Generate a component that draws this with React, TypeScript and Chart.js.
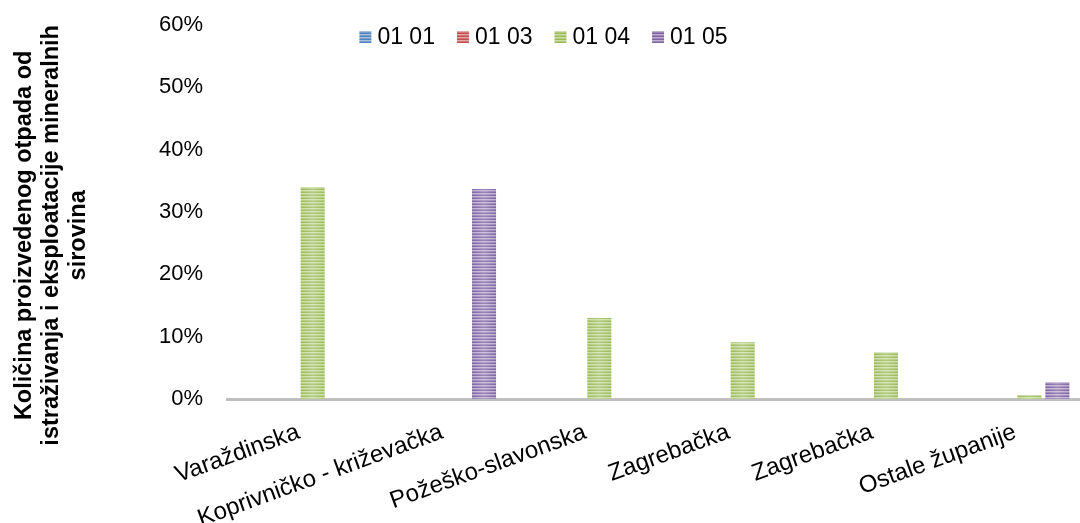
import React, { useEffect, useRef } from "react";
import { Chart, registerables } from "chart.js";

Chart.register(...registerables);

// Categories (counties) and the share per waste code, in percent
const categories = [
  "Varaždinska",
  "Koprivničko - križevačka",
  "Požeško-slavonska",
  "Zagrebačka",
  "Zagrebačka",
  "Ostale županije",
];
const seriesNames = ["01 01", "01 03", "01 04", "01 05"];
const values0101 = [0, 0, 0, 0, 0, 0];
const values0103 = [0, 0, 0, 0, 0, 0];
const values0104 = [34.0, 0, 13.0, 9.1, 7.5, 0.6];
const values0105 = [0, 33.7, 0, 0, 0, 2.7];
const yTicks = [0, 10, 20, 30, 40, 50, 60];
const yTitleLines = [
  "Količina proizvedenog otpada od",
  "istraživanja i eksploatacije mineralnih",
  "sirovina",
];

const seriesValues = [values0101, values0103, values0104, values0105];
const darkColors = ["#4f81bd", "#c0504d", "#9bbb59", "#8064a2"];
const lightColors = ["#a7c0de", "#dfa8a6", "#cddfa8", "#bfb0d3"];

const FONT = "'Liberation Sans', Arial, sans-serif";

function makeStripe(ctx: CanvasRenderingContext2D, dark: string, light: string) {
  const c = document.createElement("canvas");
  c.width = 4;
  c.height = 3;
  const g = c.getContext("2d")!;
  g.fillStyle = dark;
  g.fillRect(0, 0, 4, 3);
  g.fillStyle = light;
  g.fillRect(0, 1, 4, 1);
  g.globalAlpha = 0.45;
  g.fillRect(0, 2, 4, 1);
  return ctx.createPattern(c, "repeat") as CanvasPattern;
}

export default function App() {
  const canvasRef = useRef<HTMLCanvasElement | null>(null);

  useEffect(() => {
    const canvas = canvasRef.current;
    if (!canvas) return;
    const ctx = canvas.getContext("2d")!;
    const patterns = darkColors.map((d, i) => makeStripe(ctx, d, lightColors[i]));

    // Soft vertical sheen across every bar
    const sheenPlugin = {
      id: "sheen",
      afterDatasetsDraw(chart: any) {
        const c = chart.ctx as CanvasRenderingContext2D;
        chart.data.datasets.forEach((_: any, di: number) => {
          const meta = chart.getDatasetMeta(di);
          meta.data.forEach((bar: any) => {
            const h = Math.abs(bar.base - bar.y);
            if (h < 1) return;
            const x0 = bar.x - bar.width / 2;
            const gr = c.createLinearGradient(x0, 0, x0 + bar.width, 0);
            gr.addColorStop(0, "rgba(255,255,255,0)");
            gr.addColorStop(0.5, "rgba(255,255,255,0.22)");
            gr.addColorStop(1, "rgba(255,255,255,0)");
            c.save();
            c.fillStyle = gr;
            c.fillRect(x0, Math.min(bar.y, bar.base), bar.width, h);
            c.restore();
          });
        });
      },
    };

    // Legend drawn across the top of the canvas, overlapping the plot
    const legendPlugin = {
      id: "topLegend",
      afterDraw(chart: any) {
        const c = chart.ctx as CanvasRenderingContext2D;
        c.save();
        c.font = `23px ${FONT}`;
        c.textBaseline = "middle";
        c.textAlign = "left";
        const box = 12;
        const gap = 6;
        const spacing = 22;
        const widths = seriesNames.map((n) => box + gap + c.measureText(n).width);
        const total = widths.reduce((a, b) => a + b, 0) + spacing * (seriesNames.length - 1);
        let x = chart.width / 2 - total / 2;
        const y = 37;
        seriesNames.forEach((name, i) => {
          c.fillStyle = patterns[i];
          c.fillRect(x, y - box / 2, box, box);
          c.fillStyle = "#000";
          c.fillText(name, x + box + gap, y + 1);
          x += widths[i] + spacing;
        });
        c.restore();
      },
    };

    // Multi-line rotated y-axis title
    const titlePlugin = {
      id: "yTitle",
      afterDraw(chart: any) {
        const c = chart.ctx as CanvasRenderingContext2D;
        c.save();
        c.font = `bold 23.5px ${FONT}`;
        c.fillStyle = "#000";
        c.textAlign = "center";
        c.textBaseline = "middle";
        const cy = chart.height * 0.45;
        const lineH = 27;
        yTitleLines.forEach((line, i) => {
          c.save();
          c.translate(25 + i * lineH, cy);
          c.rotate(-Math.PI / 2);
          c.fillText(line, 0, 0);
          c.restore();
        });
        c.restore();
      },
    };

    const chart = new Chart(canvas, {
      type: "bar",
      data: {
        labels: categories,
        datasets: seriesValues.map((d, i) => ({
          label: seriesNames[i],
          data: d,
          backgroundColor: patterns[i],
          borderWidth: 0,
          categoryPercentage: 0.782,
          barPercentage: 0.857,
        })),
      },
      options: {
        responsive: true,
        maintainAspectRatio: false,
        animation: false,
        layout: { padding: { top: 25, right: 0, bottom: 0, left: 0 } },
        plugins: {
          legend: { display: false },
          tooltip: { enabled: false },
        },
        scales: {
          x: {
            z: 1,
            grid: { display: false, drawTicks: false },
            border: { display: true, color: "#bfbfbf", width: 3 },
            ticks: {
              color: "#000",
              font: { family: FONT, size: 24 },
              minRotation: 20,
              maxRotation: 20,
              autoSkip: false,
              padding: 19,
            },
            afterFit: (s: any) => {
              s.height = 124;
            },
          },
          y: {
            min: 0,
            max: 60,
            grid: { display: false, drawTicks: true, tickLength: 24 },
            border: { display: false },
            ticks: {
              color: "#000",
              font: { family: FONT, size: 22 },
              padding: 0,
              callback: (v: any) => `${v}%`,
            },
            afterBuildTicks: (s: any) => {
              s.ticks = yTicks.map((v) => ({ value: v }));
            },
            afterFit: (s: any) => {
              s.width = 227;
            },
          },
        },
      },
      plugins: [sheenPlugin, legendPlugin, titlePlugin],
    });

    return () => chart.destroy();
  }, []);

  return (
    <div
      style={{
        position: "fixed",
        top: 0,
        left: 0,
        width: 1080,
        height: 523,
        overflow: "hidden",
        background: "#fff",
      }}
    >
      <div style={{ position: "relative", width: 1087, height: 523 }}>
        <canvas ref={canvasRef} />
      </div>
    </div>
  );
}
